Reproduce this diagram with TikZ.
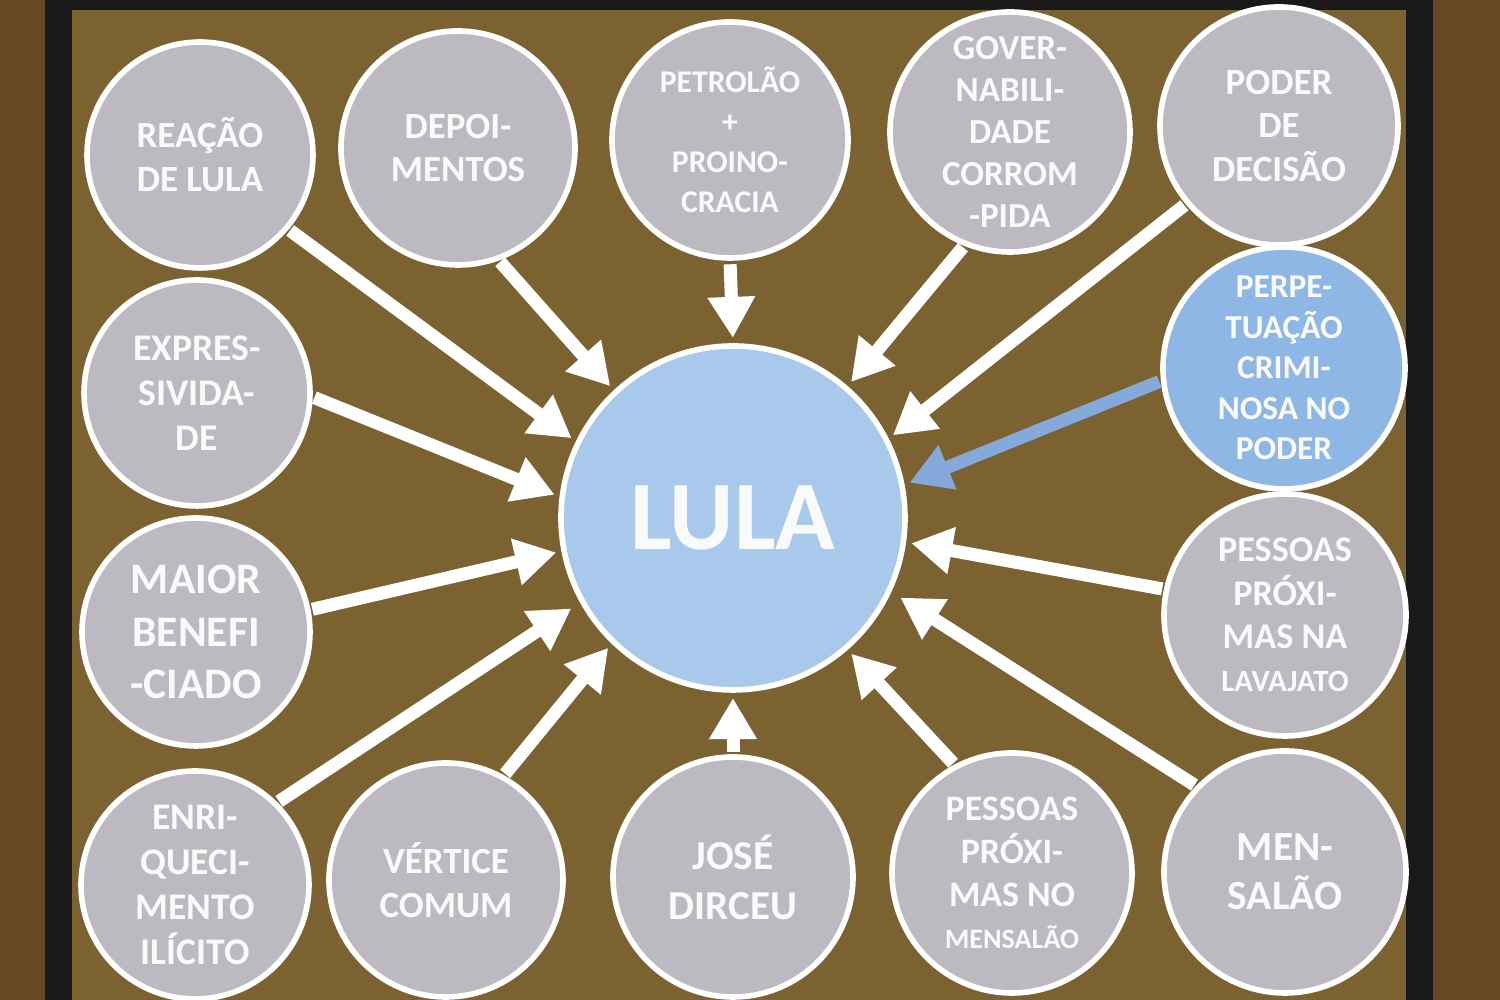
\documentclass[tikz,border=0pt]{standalone}
\usepackage{fontspec}
\setmainfont{Carlito}
\usepackage{xcolor}
\usetikzlibrary{arrows.meta}
\definecolor{room}{HTML}{684824}
\definecolor{slide}{HTML}{7C6231}
\definecolor{bubblegrey}{HTML}{BDB9C0}
\definecolor{lulablue}{HTML}{A8C8EC}
\definecolor{deepblue}{HTML}{8FB7E6}
\definecolor{arrowblue}{HTML}{86A9DC}
\tikzset{
  bubble/.style={circle,draw=white,line width=1.6pt,fill=bubblegrey,inner sep=0pt,minimum size=#1},
  bubble/.default=2.36cm,
  caption/.style={text=white!96!gray,align=center,inner sep=0pt},
  feed/.style={draw=white,line width=3.7pt,-{Triangle[length=0.41cm,width=0.45cm]},
               shorten >=1.5pt,shorten <=0.5pt}
}

\begin{document}
\begin{tikzpicture}
  \useasboundingbox (0,0) rectangle (15,10);
  \clip (0,0) rectangle (15,10);
  % screen, frame and room behind it
  \fill[room] (0,0) rectangle (15,10);
  \fill[black!90] (0.45,0) rectangle (14.33,10);
  \fill[slide] (0.72,0) rectangle (14.06,9.90);

  \node[bubble=3.44cm,fill=lulablue] (lula) at (7.33,4.82) {};
  \node[caption,font=\bfseries\fontsize{28}{32}\selectfont] (lula-t) at (lula) {LULA};

  % top row
  \node[bubble=2.26cm] (reacao) at (2.00,8.45) {};
  \node[caption,font=\bfseries\fontsize{10.5}{12.5}\selectfont] (reacao-t) at (reacao)
    {REAÇÃO\\DE LULA};
  \node[bubble=2.34cm] (depoim) at (4.58,8.52) {};
  \node[caption,font=\bfseries\fontsize{10.5}{12}\selectfont] (depoim-t) at (depoim)
    {DEPOI-\\MENTOS};
  \node[bubble=2.36cm] (petrol) at (7.30,8.60) {};
  \node[caption,font=\bfseries\fontsize{9}{11.4}\selectfont] (petrol-t) at (petrol)
    {PETROLÃO\\+\\PROINO-\\CRACIA};
  \node[bubble=2.40cm] (gov) at (10.10,8.68) {};
  \node[caption,font=\bfseries\fontsize{10}{12}\selectfont] (gov-t) at (gov)
    {GOVER-\\NABILI-\\DADE\\CORROM\\-PIDA};
  \node[bubble=2.38cm] (poder) at (12.79,8.74) {};
  \node[caption,font=\bfseries\fontsize{10.5}{12.5}\selectfont] (poder-t) at (poder)
    {PODER\\DE\\DECISÃO};

  % right column
  \node[bubble=2.42cm,fill=deepblue] (perpet) at (12.84,6.32) {};
  \node[caption,font=\bfseries\fontsize{9.5}{11.5}\selectfont] (perpet-t) at (perpet)
    {PERPE-\\TUAÇÃO\\CRIMI-\\NOSA NO\\PODER};
  \node[bubble=2.42cm] (plava) at (12.85,3.85) {};
  \node[caption,font=\bfseries\fontsize{10.3}{12.3}\selectfont] (plava-t) at (plava)
    {PESSOAS\\PRÓXI-\\MAS NA\\{\fontsize{8.8}{11}\selectfont LAVAJATO}};
  \node[bubble=2.42cm] (mensal) at (12.85,1.28) {};
  \node[caption,font=\bfseries\fontsize{11.8}{14}\selectfont] (mensal-t) at (mensal)
    {MEN-\\SALÃO};

  % bottom row
  \node[bubble=2.40cm] (pmens) at (10.12,1.27) {};
  \node[caption,font=\bfseries\fontsize{10.2}{12.2}\selectfont] (pmens-t) at (pmens)
    {PESSOAS\\PRÓXI-\\MAS NO\\{\fontsize{8}{10.5}\selectfont MENSALÃO}};
  \node[bubble=2.40cm] (jose) at (7.33,1.23) {};
  \node[caption,font=\bfseries\fontsize{11.7}{14.2}\selectfont] (jose-t) at (jose)
    {JOSÉ\\DIRCEU};
  \node[bubble=2.34cm] (vertice) at (4.46,1.20) {};
  \node[caption,font=\bfseries\fontsize{10.5}{12.5}\selectfont] (vertice-t) at (vertice)
    {VÉRTICE\\COMUM};

  % left column
  \node[bubble=2.28cm] (enriq) at (1.95,1.15) {};
  \node[caption,font=\bfseries\fontsize{10.7}{12.8}\selectfont] (enriq-t) at (enriq)
    {ENRI-\\QUECI-\\MENTO\\ILÍCITO};
  \node[bubble=2.28cm] (maior) at (1.96,3.68) {};
  \node[caption,font=\bfseries\fontsize{12.4}{15}\selectfont] (maior-t) at (maior)
    {MAIOR\\BENEFI\\-CIADO};
  \node[bubble=2.26cm] (express) at (1.97,6.07) {};
  \node[caption,font=\bfseries\fontsize{10.7}{12.8}\selectfont] (express-t) at (express)
    {EXPRES-\\SIVIDA-\\DE};

  % everything points at the centre
  \draw[feed] (reacao.-40) -- (lula.154);
  \draw[feed] (depoim.-70) -- (lula.133);
  \draw[feed,shorten <=1pt] (petrol.-90) -- (lula.90);
  \draw[feed] (gov.-112) -- (lula.49);
  \draw[feed] (poder.-140) -- (lula.27);
  \draw[feed,draw=arrowblue] (perpet.186) -- (lula.11);
  \draw[feed] (plava.168) -- (lula.-8);
  \draw[feed,shorten >=3pt] (mensal.136) -- (lula.-25);
  \draw[feed] (pmens.118) -- (lula.-49);
  \draw[feed] (jose.90) -- (lula.270);
  \draw[feed] (vertice.61) -- (lula.226);
  \draw[feed,shorten >=3pt] (enriq.45) -- (lula.209);
  \draw[feed] (maior.11) -- (lula.191);
  \draw[feed] (express.-2) -- (lula.173);
\end{tikzpicture}
\end{document}
